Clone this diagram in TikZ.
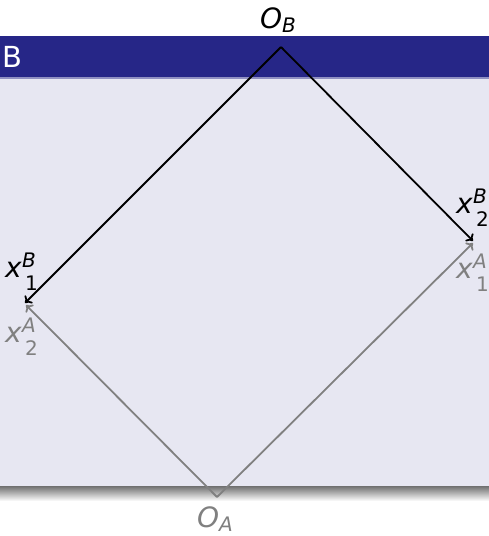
\documentclass[tikz,border=0pt]{standalone}
\usepackage{fontspec}
\setmainfont{DejaVu Sans}
\usetikzlibrary{arrows.meta}
\definecolor{blocktitle}{RGB}{38,38,135}
\definecolor{blockbody}{RGB}{231,231,242}
\newcommand{\scr}{\fontsize{20}{20}\selectfont}
\newcommand{\supsub}[3]{\textit{#1}\rlap{\raisebox{10pt}{\scr\itshape #2}}\hspace{3pt}\raisebox{-13pt}{\scr #3}}
\newcommand{\onlysub}[2]{\textit{#1}\raisebox{-4pt}{\scr\itshape #2}}
\begin{document}
\begin{tikzpicture}[x=1pt,y=-1pt,
  lab/.style={font=\fontsize{28}{33}\selectfont, inner sep=0pt, anchor=base west},
  axisB/.style={line width=1.8pt, black, -{To[length=6pt,width=11pt]}},
  axisA/.style={line width=1.8pt, black!50, -{To[length=6pt,width=11pt]}}]
\useasboundingbox (0,0) rectangle (489,536);
% block
\shade[top color=black!60, bottom color=white] (-10,485) rectangle (499,501);
\fill[blockbody] (-10,78) rectangle (499,486);
\fill[blocktitle] (-10,36) rectangle (499,77);
\fill[blocktitle!45!blockbody] (-10,77) rectangle (499,79);
\node[anchor=base west, inner sep=0pt, text=white, font=\fontsize{29}{34}\selectfont] (title) at (2,67) {B};
% origins and tips
\coordinate (OB) at (281,47);
\coordinate (x1Btip) at (25,303);
\coordinate (x2Btip) at (473,241);
\coordinate (OA) at (217,497);
\coordinate (x2Atip) at (26,305);
\coordinate (x1Atip) at (473,243);
% axes
\draw[axisB] (OB) -- (x1Btip);
\draw[axisB] (OB) -- (x2Btip);
\draw[axisA] (OA) -- (x2Atip);
\draw[axisA] (OA) -- (x1Atip);
% labels
\node[lab] (lOB) at (260,28) {\onlysub{O}{B}};
\node[lab, text=black!50] (lOA) at (197,527) {\onlysub{O}{A}};
\node[lab] (lx1B) at (5,277) {\supsub{x}{B}{1}};
\node[lab, text=black!50] (lx2A) at (5,342) {\supsub{x}{A}{2}};
\node[lab] (lx2B) at (456,213) {\supsub{x}{B}{2}};
\node[lab, text=black!50] (lx1A) at (456,278) {\supsub{x}{A}{1}};
\end{tikzpicture}
\end{document}
